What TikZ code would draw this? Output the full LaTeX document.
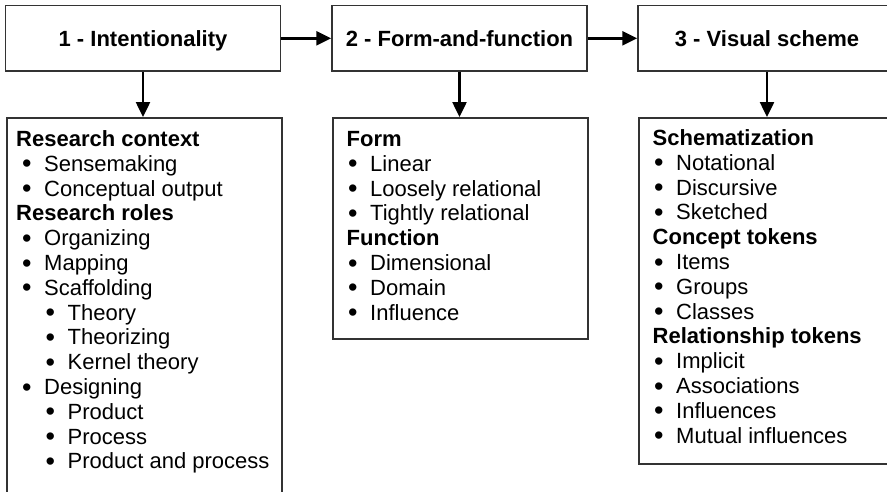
\documentclass[tikz,border=0pt]{standalone}
\usepackage{fontspec}
\setmainfont{Liberation Sans}
\usetikzlibrary{arrows.meta}

\newcommand{\dotmark}{\makebox[22pt][l]{\raisebox{-1.6pt}{\fontsize{27}{26}\selectfont\textbullet}}}

\tikzset{
  stagebox/.style={draw=black!80, line width=1.5pt, minimum height=65.5pt, inner sep=0pt,
    font=\fontsize{22}{26}\selectfont\bfseries, text height=15.8pt, text depth=0pt},
  listbox/.style={draw=black!80, line width=1.5pt, anchor=north west, inner sep=0pt},
  entry/.style={font=\fontsize{22}{26}\selectfont, anchor=base west, inner sep=0pt},
  topic/.style={entry, font=\fontsize{22}{26}\selectfont\bfseries, xshift=10pt},
  topicb/.style={topic, xshift=4.5pt},
  point/.style={entry, xshift=16pt, execute at begin node={\dotmark}},
  subpoint/.style={entry, xshift=39.5pt, execute at begin node={\dotmark}},
  link/.style={line width=2.5pt, -{Triangle[length=15pt,width=14pt]}},
}

\begin{document}
\begin{tikzpicture}[x=1pt,y=-1pt]
\useasboundingbox (0,0) rectangle (887,491);
\clip (0,0) rectangle (887,491);

% the three stages
\node[stagebox, minimum width=275pt] (s1) at (143,38.3) {1 - Intentionality};
\node[stagebox, minimum width=255pt] (s2) at (459.5,38.3) {2 - Form-and-function};
\node[stagebox, minimum width=258pt] (s3) at (767,38.3) {3 - Visual scheme};

% boxes with the lists
\node[listbox, minimum width=275pt, minimum height=400pt] (b1) at (6,117) {};
\node[listbox, minimum width=255pt, minimum height=221pt] (b2) at (332,117) {};
\node[listbox, minimum width=258pt, minimum height=346pt] (b3) at (638,117) {};

\draw[link] (s1) -- (s2);
\draw[link] (s2) -- (s3);
\draw[link] (s1.south) -- (s1.south |- b1.north);
\draw[link] (s2.south) -- (s2.south |- b2.north);
\draw[link] (s3.south) -- (s3.south |- b3.north);

\foreach \kind/\txt [count=\k from 0] in {topic/Research context, point/Sensemaking,
    point/Conceptual output, topic/Research roles, point/Organizing, point/Mapping,
    point/Scaffolding, subpoint/Theory, subpoint/Theorizing, subpoint/Kernel theory,
    point/Designing, subpoint/Product, subpoint/Process, subpoint/Product and process}
  \node[\kind] (b1-\k) at (6,{146.5+24.8*\k}) {\txt};

\foreach \kind/\txt [count=\k from 0] in {topicb/Form, point/Linear,
    point/Loosely relational, point/Tightly relational, topicb/Function,
    point/Dimensional, point/Domain, point/Influence}
  \node[\kind] (b2-\k) at (332,{146.5+24.8*\k}) {\txt};

\foreach \kind/\txt [count=\k from 0] in {topicb/Schematization, point/Notational,
    point/Discursive, point/Sketched, topicb/Concept tokens, point/Items,
    point/Groups, point/Classes, topicb/Relationship tokens, point/Implicit,
    point/Associations, point/Influences, point/Mutual influences}
  \node[\kind] (b3-\k) at (638,{145.5+24.8*\k}) {\txt};
\end{tikzpicture}
\end{document}
